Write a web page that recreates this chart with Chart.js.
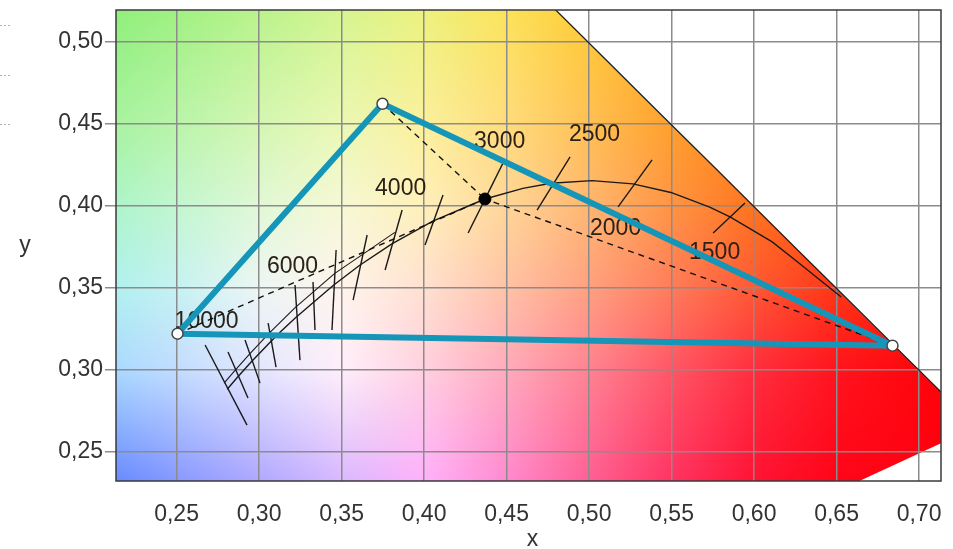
<!DOCTYPE html>
<html>
<head>
<meta charset="utf-8">
<script src="https://cdn.jsdelivr.net/npm/chart.js@4/dist/chart.umd.min.js"></script>
<style>
  html, body { margin: 0; padding: 0; background: #fff; }
</style>
</head>
<body>
<canvas id="cie" width="953" height="549"></canvas>
<script>
// Axis ticks
const xTicks = [0.25, 0.30, 0.35, 0.40, 0.45, 0.50, 0.55, 0.60, 0.65, 0.70];
const yTicks = [0.25, 0.30, 0.35, 0.40, 0.45, 0.50];

// CIE 1931 spectral locus (nm, x, y)
const locusNm = [380, 420, 440, 460, 470, 475, 480, 485, 490, 495, 500, 505, 510, 515, 520, 525, 530, 535, 540, 545, 550, 555, 560, 565, 570, 575, 580, 585, 590, 595, 600, 605, 610, 615, 620, 625, 630, 640, 650, 660, 680, 700];
const locusX = [0.1741, 0.1714, 0.1644, 0.1440, 0.1241, 0.1096, 0.0913, 0.0687, 0.0454, 0.0235, 0.0082, 0.0039, 0.0139, 0.0389, 0.0743, 0.1142, 0.1547, 0.1929, 0.2296, 0.2658, 0.3016, 0.3373, 0.3731, 0.4087, 0.4441, 0.4788, 0.5125, 0.5448, 0.5752, 0.6029, 0.6270, 0.6482, 0.6658, 0.6801, 0.6915, 0.7006, 0.7079, 0.7190, 0.7260, 0.7300, 0.7334, 0.7347];
const locusY = [0.0050, 0.0051, 0.0109, 0.0297, 0.0578, 0.0868, 0.1327, 0.2007, 0.2950, 0.4127, 0.5384, 0.6548, 0.7502, 0.8120, 0.8338, 0.8262, 0.8059, 0.7816, 0.7543, 0.7243, 0.6923, 0.6589, 0.6245, 0.5896, 0.5547, 0.5202, 0.4866, 0.4544, 0.4242, 0.3965, 0.3725, 0.3514, 0.3340, 0.3197, 0.3083, 0.2993, 0.2920, 0.2809, 0.2740, 0.2700, 0.2666, 0.2653];

// Planckian locus (K, x, y)
const planckT = [10000, 9000, 8000, 7000, 6500, 6000, 5500, 5000, 4500, 4000, 3500, 3000, 2700, 2500, 2200, 2000, 1800, 1600, 1500, 1300, 1200, 1100, 1000];
const planckX = [0.2807, 0.2869, 0.2952, 0.3064, 0.3135, 0.3221, 0.3325, 0.3451, 0.3608, 0.3805, 0.4053, 0.4369, 0.4599, 0.4769, 0.5018, 0.5266, 0.5496, 0.5731, 0.5857, 0.6110, 0.6249, 0.6390, 0.6528];
const planckY = [0.2883, 0.2956, 0.3048, 0.3166, 0.3237, 0.3318, 0.3408, 0.3516, 0.3636, 0.3768, 0.3907, 0.4041, 0.4106, 0.4137, 0.4153, 0.4133, 0.4081, 0.3992, 0.3931, 0.3780, 0.3670, 0.3556, 0.3444];

// Daylight locus
const daylightT = [10000, 9000, 8000, 7000, 6000, 5000, 4000];
const daylightX = [0.2788, 0.2853, 0.2938, 0.3054, 0.3217, 0.3457, 0.3823];
const daylightY = [0.2920, 0.2996, 0.3092, 0.3217, 0.3378, 0.3587, 0.3838];

// Isotherm segments (K, start x/y, end x/y)
const isoT  = [10000, 9000, 8000, 7000, 6000, 5500, 5000, 4500, 4000, 3500, 3000, 2500, 2000, 1500];
const isoX1 = [0.2673, 0.2812, 0.2915, 0.3055, 0.3218, 0.3327, 0.3467, 0.3655, 0.3867, 0.4115, 0.4479, 0.4885, 0.5382, 0.5945];
const isoY1 = [0.3152, 0.3109, 0.3182, 0.3286, 0.3517, 0.3536, 0.3731, 0.3822, 0.3974, 0.4066, 0.4261, 0.4297, 0.4279, 0.4017];
const isoX2 = [0.2927, 0.2933, 0.3006, 0.3103, 0.3248, 0.3339, 0.3442, 0.3570, 0.3764, 0.4006, 0.4267, 0.4685, 0.5176, 0.5752];
const isoY2 = [0.2664, 0.2829, 0.2920, 0.3018, 0.3060, 0.3243, 0.3243, 0.3426, 0.3609, 0.3761, 0.3834, 0.3974, 0.3993, 0.3834];

// Temperature labels
const tempLabels = ['10000', '6000', '4000', '3000', '2500', '2000', '1500'];
const tempLabelX = [0.2682, 0.3203, 0.3858, 0.4458, 0.5033, 0.5161, 0.5761];
const tempLabelY = [0.3294, 0.3627, 0.4106, 0.4391, 0.4433, 0.3858, 0.3712];

// Triangle of primaries and the white point
const primX = [0.2506, 0.3748, 0.6839];
const primY = [0.3221, 0.4621, 0.3148];
const wpX = 0.4369;
const wpY = 0.4041;

// Background colour samples (rows top to bottom)
const bgX = [0.20, 0.25, 0.30, 0.35, 0.40, 0.45, 0.50, 0.55, 0.60, 0.65, 0.72];
const bgY = [0.53, 0.45, 0.40, 0.35, 0.30, 0.23];
const bgColors = [
    ['#86ee74', '#9cf07c', '#b6f286', '#d2f48a', '#eaf27a', '#fbe456', '#ffcc30', '#ffac1c', '#ff8c0e', '#ff6c04', '#ff4c00'],
    ['#a2f29c', '#baf4aa', '#d4f6b2', '#eaf8b4', '#fbf09c', '#ffdc7c', '#ffc054', '#ffa02c', '#ff8416', '#ff6808', '#ff4600'],
    ['#a6f4c8', '#c2f6d0', '#e0f8d6', '#f6f8d4', '#fff0ba', '#ffd698', '#ffb670', '#ff9444', '#ff741e', '#ff580c', '#ff3c00'],
    ['#aaf0ee', '#c6f2f2', '#ecf6f4', '#fff4ec', '#ffe0d0', '#ffc2a6', '#ffa080', '#ff7c5a', '#ff5834', '#ff3616', '#ff1e00'],
    ['#a2d8ff', '#c2dcff', '#e4e6ff', '#ffeefa', '#ffd0e0', '#ffaabc', '#ff8292', '#ff5666', '#ff2e3e', '#ff141e', '#ff0006'],
    ['#5a82ff', '#8696ff', '#aea6ff', '#d8b6ff', '#ffb0fc', '#ff88d0', '#ff5e94', '#ff3262', '#ff1234', '#ff0418', '#ff0010']
];

const FONT = "'Liberation Sans', Arial, sans-serif";
const TEAL = '#1596b8';

const pts = (xs, ys) => xs.map((x, i) => ({ x: x, y: ys[i] }));
const fmt = v => v.toFixed(2).replace('.', ',');

const bgRgb = bgColors.map(row => row.map(h => {
    const n = parseInt(h.slice(1), 16);
    return [n >> 16, (n >> 8) & 255, n & 255];
}));

function bgColorAt(xv, yv) {
    let i = 0;
    while (i < bgX.length - 2 && xv > bgX[i + 1]) i++;
    let j = 0;
    while (j < bgY.length - 2 && yv < bgY[j + 1]) j++;
    const tx = Math.min(1, Math.max(0, (xv - bgX[i]) / (bgX[i + 1] - bgX[i])));
    const ty = Math.min(1, Math.max(0, (bgY[j] - yv) / (bgY[j] - bgY[j + 1])));
    const a = bgRgb[j][i], b = bgRgb[j][i + 1], c = bgRgb[j + 1][i], d = bgRgb[j + 1][i + 1];
    const out = [0, 0, 0];
    for (let k = 0; k < 3; k++) {
        const top = a[k] + (b[k] - a[k]) * tx;
        const bot = c[k] + (d[k] - c[k]) * tx;
        out[k] = top + (bot - top) * ty;
    }
    return out;
}

// Paint the chromaticity colours inside the spectral locus
const cieBackground = {
    id: 'cieBackground',
    beforeDraw(chart) {
        const { ctx, chartArea: area, scales: { x, y } } = chart;
        ctx.save();
        ctx.fillStyle = '#fff';
        ctx.fillRect(0, 0, chart.width, chart.height);

        const w = Math.round(area.right - area.left);
        const h = Math.round(area.bottom - area.top);
        const off = document.createElement('canvas');
        off.width = w;
        off.height = h;
        const octx = off.getContext('2d');
        const img = octx.createImageData(w, h);
        for (let j = 0; j < h; j++) {
            const yv = y.getValueForPixel(area.top + j + 0.5);
            for (let i = 0; i < w; i++) {
                const xv = x.getValueForPixel(area.left + i + 0.5);
                const c = bgColorAt(xv, yv);
                const p = (j * w + i) * 4;
                img.data[p] = c[0];
                img.data[p + 1] = c[1];
                img.data[p + 2] = c[2];
                img.data[p + 3] = 255;
            }
        }
        octx.putImageData(img, 0, 0);

        ctx.beginPath();
        ctx.rect(area.left, area.top, w, h);
        ctx.clip();
        ctx.beginPath();
        locusX.forEach((lx, k) => {
            const px = x.getPixelForValue(lx), py = y.getPixelForValue(locusY[k]);
            if (k === 0) ctx.moveTo(px, py); else ctx.lineTo(px, py);
        });
        ctx.closePath();
        ctx.clip();
        ctx.drawImage(off, area.left, area.top);
        ctx.restore();
    },
    beforeDatasetsDraw(chart) {
        const { ctx, scales: { x, y } } = chart;
        ctx.save();
        ctx.font = '23px ' + FONT;
        ctx.fillStyle = '#2b2118';
        ctx.textAlign = 'center';
        ctx.textBaseline = 'middle';
        tempLabels.forEach((t, k) => {
            ctx.fillText(t, x.getPixelForValue(tempLabelX[k]), y.getPixelForValue(tempLabelY[k]));
        });
        ctx.restore();
    },
    afterDraw(chart) {
        const { ctx, chartArea: area } = chart;
        ctx.save();
        // plot frame
        ctx.strokeStyle = '#3a3a3a';
        ctx.lineWidth = 1.5;
        ctx.strokeRect(area.left, area.top, area.right - area.left, area.bottom - area.top);
        // axis titles
        ctx.fillStyle = '#333';
        ctx.font = '23px ' + FONT;
        ctx.textAlign = 'center';
        ctx.textBaseline = 'middle';
        ctx.fillText('y', 25, (area.top + area.bottom) / 2);
        ctx.fillText('x', (area.left + area.right) / 2 + 4, 540);
        // little dotted stubs at the left edge
        ctx.strokeStyle = '#b0b0b0';
        ctx.lineWidth = 1;
        ctx.setLineDash([2, 2]);
        [25, 75, 124].forEach(yy => {
            ctx.beginPath();
            ctx.moveTo(0, yy + 0.5);
            ctx.lineTo(11, yy + 0.5);
            ctx.stroke();
        });
        ctx.restore();
    }
};

const lineDs = (data, color, width, dash) => ({
    data: data,
    showLine: true,
    borderColor: color,
    borderWidth: width,
    borderDash: dash || [],
    pointRadius: 0,
    fill: false
});

const datasets = [];
// vertex markers
datasets.push({
    data: pts(primX, primY),
    pointRadius: 5.5,
    pointBackgroundColor: '#fff',
    pointBorderColor: '#444',
    pointBorderWidth: 1.5
});
// white point
datasets.push({
    data: [{ x: wpX, y: wpY }],
    pointRadius: 6,
    pointBackgroundColor: '#000',
    pointBorderColor: '#000'
});
// triangle
datasets.push(Object.assign(lineDs(pts(primX.concat(primX[0]), primY.concat(primY[0])), TEAL, 6), {
    borderJoinStyle: 'round',
    borderCapStyle: 'round'
}));
// dashed lines from each primary to the white point
primX.forEach((px, k) => {
    datasets.push(lineDs([{ x: px, y: primY[k] }, { x: wpX, y: wpY }], '#111', 1.4, [6, 5]));
});
datasets.push(lineDs(pts(planckX, planckY), '#1a1a1a', 1.4));
datasets.push(lineDs(pts(daylightX, daylightY), '#1a1a1a', 1.1));
isoT.forEach((t, k) => {
    datasets.push(lineDs([{ x: isoX1[k], y: isoY1[k] }, { x: isoX2[k], y: isoY2[k] }], '#1a1a1a', 1.4));
});
datasets.push(lineDs(pts(locusX.slice(locusNm.indexOf(540)), locusY.slice(locusNm.indexOf(540))), '#222', 1.3));

const setTicks = list => scale => { scale.ticks = list.map(v => ({ value: v })); };

new Chart(document.getElementById('cie'), {
    type: 'scatter',
    data: { datasets: datasets },
    options: {
        responsive: false,
        animation: false,
        events: [],
        layout: { padding: { left: 0, right: 12, top: 10, bottom: 0 } },
        plugins: { legend: { display: false }, tooltip: { enabled: false } },
        scales: {
            x: {
                type: 'linear',
                min: 0.2133,
                max: 0.7133,
                afterBuildTicks: setTicks(xTicks),
                afterFit: scale => {
                    scale.height = 68;
                    scale.paddingLeft = 0;
                    scale.paddingRight = 0;
                },
                border: { display: false },
                grid: { color: '#8c8c8c', lineWidth: 1.5, drawTicks: false },
                ticks: {
                    padding: 20,
                    color: '#333',
                    font: { family: FONT, size: 23 },
                    callback: v => fmt(v),
                    maxRotation: 0,
                    autoSkip: false
                }
            },
            y: {
                type: 'linear',
                min: 0.2324,
                max: 0.5192,
                afterBuildTicks: setTicks(yTicks),
                afterFit: scale => {
                    scale.width = 116;
                    scale.paddingTop = 0;
                    scale.paddingBottom = 0;
                },
                border: { display: false },
                grid: { color: '#8c8c8c', lineWidth: 1.5, tickLength: 11 },
                ticks: {
                    padding: 2,
                    color: '#333',
                    font: { family: FONT, size: 23 },
                    callback: v => fmt(v),
                    autoSkip: false
                }
            }
        }
    },
    plugins: [cieBackground]
});
</script>
</body>
</html>
